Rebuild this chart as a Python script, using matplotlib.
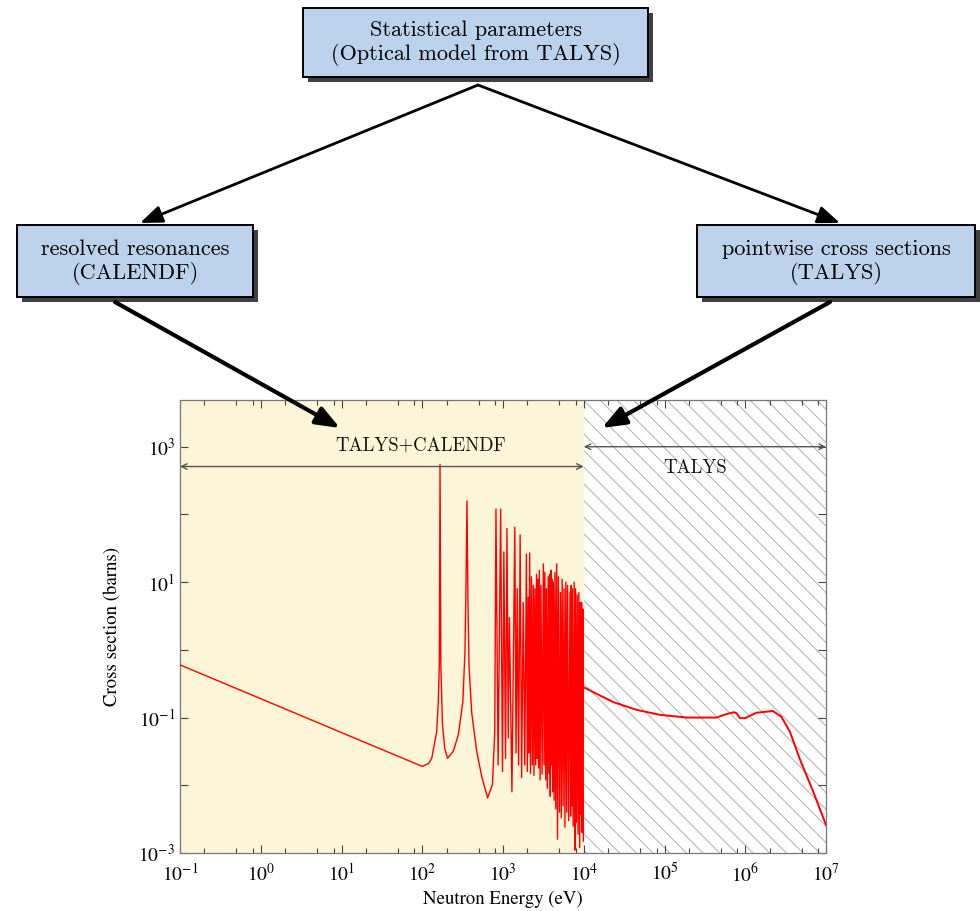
import matplotlib
matplotlib.use("Agg")
import numpy as np
import matplotlib.pyplot as plt
from matplotlib.patches import Rectangle, FancyArrowPatch
from matplotlib.ticker import FixedLocator, FixedFormatter, LogLocator, NullFormatter, NullLocator

plt.rcParams["mathtext.fontset"] = "stix"
plt.rcParams["hatch.linewidth"] = 0.8

# --- cross section (energy in eV, sigma in barns) ---
# smooth part: 1/v branch and wings of the two isolated resonances
low_e = [0.1, 1, 10, 46, 100, 120, 131, 151, 158, 163, 170, 178, 190, 206, 243,
         280, 318, 338, 348, 368, 379, 409, 472, 545, 645, 740, 790]
low_xs = [0.6, 0.19, 0.06, 0.028, 0.019, 0.021, 0.025, 0.062, 0.17, 0.67, 0.6,
          0.079, 0.035, 0.025, 0.032, 0.056, 0.17, 0.93, 9.0, 5.1, 0.6, 0.12,
          0.032, 0.0135, 0.0065, 0.0103, 0.06]

# resonance tops
peak_e = [166, 358, 818, 935, 1025, 1120, 1200, 1400, 1500, 1630, 1780, 1950,
          2050, 2140, 2250, 2370, 2480, 2600, 2700, 2820, 2950, 3160, 3300, 3450,
          3630, 3780, 3930, 4050, 4200, 4400, 4620, 4850, 5150, 5400, 5700, 6000,
          6300, 6760, 7000, 7200, 7600, 7900, 8300, 8700, 9100, 9400, 9750]
peak_xs = [550, 158, 120, 120, 28, 62, 3, 65, 8, 50, 5, 26,
           6, 27, 12, 9, 8, 13, 11, 15, 9, 18.6, 14, 8,
           12, 13, 15, 11, 10, 14, 18.6, 12, 7, 11, 8, 10,
           9, 7, 9, 8, 10, 8, 6.5, 7, 5, 5, 4]

# minima between the resonances
dip_e = [870, 985, 1075, 1160, 1290, 1450, 1560, 1700, 1860, 2000, 2090, 2190,
         2310, 2420, 2540, 2650, 2760, 2880, 3050, 3230, 3380, 3540, 3700, 3850,
         3990, 4120, 4300, 4500, 4730, 5000, 5270, 5550, 5850, 6150, 6500, 6880,
         7100, 7400, 7750, 8100, 8500, 8900, 9250, 9550, 9900]
dip_xs = [0.02, 0.016, 0.025, 0.05, 0.008, 0.03, 0.02, 0.013, 0.02, 0.016, 0.03, 0.015,
          0.02, 0.014, 0.02, 0.025, 0.018, 0.012, 0.0145, 0.02, 0.012, 0.009, 0.015, 0.0069,
          0.02, 0.008, 0.006, 0.0045, 0.0016, 0.004, 0.0033, 0.005, 0.0024, 0.004, 0.003, 0.0035,
          0.005, 0.0025, 0.0011, 0.0028, 0.0019, 0.0012, 0.0037, 0.002, 0.0015]

# TALYS pointwise part above 10 keV
talys_e = [1e4, 2.3e4, 4.5e4, 8.7e4, 1.9e5, 4.4e5, 5.9e5, 7.25e5, 7.8e5, 8.6e5,
           9.9e5, 1.38e6, 2.2e6, 2.8e6, 3.57e6, 4.7e6, 6.9e6, 1e7]
talys_xs = [0.28, 0.17, 0.13, 0.11, 0.1, 0.1, 0.113, 0.12, 0.116, 0.098,
            0.098, 0.118, 0.125, 0.103, 0.062, 0.025, 0.0082, 0.0026]

x_exp = [-1, 0, 1, 2, 3, 4, 5, 6, 7]
y_exp = [-3, -2, -1, 0, 1, 2, 3]
y_labelled = [-3, -1, 1, 3]

# flow chart boxes: (x, y, w, h) in pixels, text lines
boxes = [
    ((303, 8, 345, 69), "Statistical parameters\n(Optical model from TALYS)"),
    ((17, 225, 236, 72), "resolved resonances\n(CALENDF)"),
    ((697, 225, 278, 72), "pointwise cross sections\n(TALYS)"),
]

fig = plt.figure(figsize=(9.8, 9.11), dpi=100)
ax = fig.add_axes([180 / 980, 1 - 853 / 911, (826 - 180) / 980, (853 - 400) / 911])
ax.set_xscale("log")
ax.set_yscale("log")
ax.set_xlim(0.1, 1e7)
ax.set_ylim(1e-3, 10 ** 3.69)

ax.axvspan(0.1, 1e4, facecolor="#fdf5d8", edgecolor="none", zorder=0)
ax.axvspan(1e4, 1e7, facecolor="white", edgecolor="#b8b8b8", hatch="\\\\",
           linewidth=0, zorder=0)

e_all = np.array(low_e + peak_e + dip_e, dtype=float)
xs_all = np.array(low_xs + peak_xs + dip_xs, dtype=float)
order = np.argsort(e_all)
ax.plot(e_all[order], xs_all[order], color="red", lw=1.0, zorder=3)
ax.plot(talys_e, talys_xs, color="red", lw=1.4, zorder=3)

arrow_kw = dict(arrowstyle="<->", color="#555555", lw=1.0, shrinkA=0, shrinkB=0)
ax.annotate("", xy=(0.1, 510), xytext=(1e4, 510), arrowprops=arrow_kw)
ax.annotate("", xy=(1e4, 1000), xytext=(1e7, 1000), arrowprops=arrow_kw)
ax.text(95, 1050, "TALYS+CALENDF", family="cmr10", fontsize=13.5,
        ha="center", va="center", color="#111111")
ax.text(2.4e5, 490, "TALYS", family="cmr10", fontsize=13.5,
        ha="center", va="center", color="#111111")

# ticks
ax.xaxis.set_major_locator(FixedLocator([10.0 ** k for k in x_exp]))
ax.xaxis.set_major_formatter(FixedFormatter([f"$10^{{{k}}}$" for k in x_exp]))
ax.xaxis.set_minor_locator(LogLocator(base=10, subs=(2, 5, 8), numticks=20))
ax.xaxis.set_minor_formatter(NullFormatter())
ax.yaxis.set_major_locator(FixedLocator([10.0 ** k for k in y_exp]))
ax.yaxis.set_major_formatter(FixedFormatter(
    [f"$10^{{{k}}}$" if k in y_labelled else "" for k in y_exp]))
ax.yaxis.set_minor_locator(NullLocator())
ax.tick_params(which="both", direction="in", top=True, right=True,
               color="#444444", labelsize=14)
ax.tick_params(which="major", length=6, width=0.8)
ax.tick_params(which="minor", length=3.5, width=0.8)
ax.tick_params(axis="x", pad=7)
for sp in ax.spines.values():
    sp.set_color("#777777")
    sp.set_linewidth(0.9)

ax.set_xlabel("Neutron Energy (eV)", family="STIXGeneral", fontsize=13.5, labelpad=4)
ax.set_ylabel("Cross section (barns)", family="STIXGeneral", fontsize=13.5, labelpad=12)

# flow chart overlay in pixel coordinates
ov = fig.add_axes([0, 0, 1, 1], zorder=5)
ov.set_xlim(0, 980)
ov.set_ylim(911, 0)
ov.axis("off")
ov.patch.set_alpha(0)

for (bx, by, bw, bh), label in boxes:
    ov.add_patch(Rectangle((bx + 5, by + 5), bw, bh, facecolor="#404040",
                           edgecolor="none", zorder=1))
    ov.add_patch(Rectangle((bx, by), bw, bh, facecolor="#bcd1ec",
                           edgecolor="black", lw=1.4, zorder=2))
    ov.text(bx + bw / 2, by + bh / 2 + 1, label, family="cmr10", fontsize=16,
            ha="center", va="center", linespacing=1.2, color="black", zorder=3)

links = [
    ((478, 85), (140, 223), 2.0, 15),
    ((478, 85), (840, 223), 2.0, 15),
    ((115, 302), (340, 428), 3.0, 16),
    ((830, 302), (602, 428), 3.0, 16),
]
for start, end, width, head in links:
    ov.add_patch(FancyArrowPatch(start, end, arrowstyle="-|>,head_length=0.9,head_width=0.35",
                                 mutation_scale=head, lw=width, color="black",
                                 shrinkA=0, shrinkB=0, zorder=4))

fig.savefig("out.png", dpi=100)
